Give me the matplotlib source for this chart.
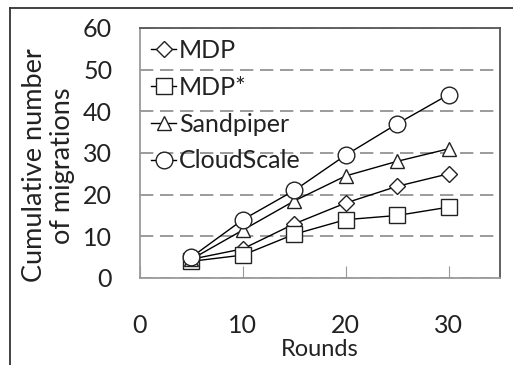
import matplotlib.pyplot as plt
from matplotlib.lines import Line2D

plt.rcParams["font.family"] = ["Lato", "DejaVu Sans"]

rounds = [5, 10, 15, 20, 25, 30]
mdp = [4.5, 7, 13, 18, 22, 25]
mdp_star = [4, 5.5, 10.5, 14, 15, 17]
sandpiper = [4.5, 11.5, 18.5, 24.5, 28, 31]
cloudscale = [5, 14, 21, 29.5, 37, 44]

series = [
    ("MDP", mdp, "D", 8),
    ("MDP*", mdp_star, "s", 11),
    ("Sandpiper", sandpiper, "^", 10),
    ("CloudScale", cloudscale, "o", 12),
]

fig = plt.figure(figsize=(5.13, 3.65), dpi=100)
ax = fig.add_axes([0.2729, 0.2384, 0.7018, 0.6849])

for name, vals, mk, ms in series:
    ax.plot(rounds, vals, color="black", lw=1.0, marker=mk, ms=ms,
            mfc="white", mec="#222222", mew=1.0, label=name)

ax.set_xlim(0, 35)
ax.set_ylim(0, 60)
ax.set_xticks([0, 10, 20, 30])
ax.set_yticks(range(0, 70, 10))
ax.yaxis.grid(True, color="#8a8a8a", lw=1.2, ls=(0, (8, 4)))
ax.set_axisbelow(True)

ax.tick_params(axis="x", direction="in", length=9, color="#999999",
               pad=26, labelsize=18, labelcolor="#222222")
ax.tick_params(axis="y", length=0, pad=20, labelsize=18, labelcolor="#222222")
for s in ["left", "bottom"]:
    ax.spines[s].set_color("#9a9a9a")
for s in ["top", "right"]:
    ax.spines[s].set_color("#555555")
for s in ax.spines.values():
    s.set_linewidth(1.3)

ax.set_xlabel("Rounds", fontsize=17, color="#222222", labelpad=1.5)
ax.set_ylabel("Cumulative number\nof migrations", fontsize=19.5,
              color="#222222", linespacing=1.15)
ax.yaxis.set_label_coords(-0.18, 0.45)

ax.legend(loc="upper left", frameon=False, fontsize=18, handlelength=1.0,
          handletextpad=0.1, borderaxespad=0.1, labelspacing=0.55,
          borderpad=0.35, labelcolor="#222222")

# outer frame of the original picture
fig.add_artist(Line2D([10 / 513, 10 / 513], [0, 1 - 8 / 365],
                      transform=fig.transFigure, color="#333333", lw=1.3))
fig.add_artist(Line2D([10 / 513, 1], [1 - 8 / 365, 1 - 8 / 365],
                      transform=fig.transFigure, color="#333333", lw=1.3))

fig.savefig("out.png", dpi=100)
